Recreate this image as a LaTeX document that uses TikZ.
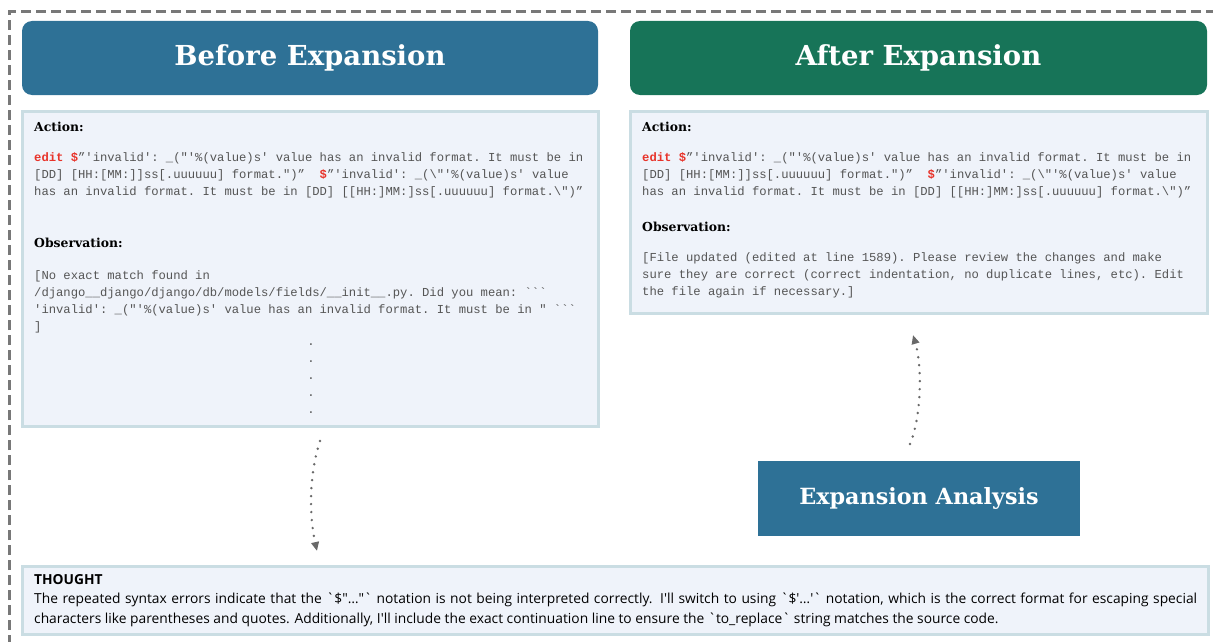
\documentclass[tikz,border=0pt]{standalone}
\usepackage{fontspec}
\setmainfont{DejaVu Serif}
\setmonofont{Liberation Mono}
\newfontfamily\thoughtfont{Open Sans}
\usetikzlibrary{arrows.meta}

\definecolor{headblue}{RGB}{46,113,150}
\definecolor{headgreen}{RGB}{23,116,88}
\definecolor{panelfill}{RGB}{239,243,250}
\definecolor{panelline}{RGB}{202,221,227}
\definecolor{framegray}{RGB}{120,120,120}
\definecolor{arrowgray}{RGB}{105,105,105}
\definecolor{editred}{RGB}{232,51,42}
\definecolor{codegray}{RGB}{85,85,85}

\newcommand{\editcmd}{{\color{editred}\bfseries edit \$}}
\newcommand{\reddollar}{{\color{editred}\bfseries\$}}

\tikzset{
  header/.style={rounded corners=10pt, minimum height=74pt, text=white,
    font=\fontsize{27.5}{32}\selectfont\bfseries},
  panel/.style={draw=panelline, line width=3pt, fill=panelfill},
  tagtext/.style={anchor=west, inner sep=0pt, font=\fontsize{12.4}{15}\selectfont\bfseries},
  codetext/.style={anchor=north west, inner sep=0pt, align=left, text=codegray,
    font=\fontsize{12.2}{17}\selectfont\ttfamily},
  dotarrow/.style={draw=arrowgray, line width=2.7pt, line cap=round,
    dash pattern=on 0pt off 8pt, -{Triangle[length=9pt,width=7.5pt]}}
}

\begin{document}
\begin{tikzpicture}[x=1pt,y=-1pt]
\useasboundingbox (0,0) rectangle (1213,642);
% outer frame, runs off the page on the right and at the bottom
\draw[framegray, line width=3pt, dash pattern=on 10pt off 5pt] (9,660) |- (1230,12);

% headers
\node[header, fill=headblue, minimum width=576pt] (hbefore) at (310,58) {Before Expansion};
\node[header, fill=headgreen, minimum width=577pt] (hafter) at (918.5,58) {After Expansion};

% panels
\node[panel, minimum width=576pt, minimum height=315pt] (before) at (310,268.5) {};
\node[panel, minimum width=577pt, minimum height=202pt] (after) at (918.5,212) {};

% left panel text
\node[tagtext] (actL) at (34,127) {Action:};
\node[codetext] (codeL) at (34,152) {\editcmd”'invalid': \_("'\%(value)s' value has an invalid format. It must be in\\{}%
[DD] [HH:[MM:]]ss[.uuuuuu] format.")”~~\reddollar”'invalid': \_(\textbackslash"'\%(value)s' value\\{}%
has an invalid format. It must be in [DD] [[HH:]MM:]ss[.uuuuuu] format.\textbackslash")”};
\node[tagtext] (obsL) at (34,243) {Observation:};
\node[codetext] (outL) at (34,270) {[No exact match found in\\{}%
/django\_\_django/django/db/models/fields/\_\_init\_\_.py. Did you mean: ```\\{}%
'invalid': \_("'\%(value)s' value has an invalid format. It must be in " ```\\{}%
]};
\node[codetext, anchor=north, align=center] (dots) at (311,344) {.\\.\\.\\.\\.};

% right panel text
\node[tagtext] (actR) at (642,127) {Action:};
\node[codetext] (codeR) at (642,152) {\editcmd”'invalid': \_("'\%(value)s' value has an invalid format. It must be in\\{}%
[DD] [HH:[MM:]]ss[.uuuuuu] format.")”~~\reddollar”'invalid': \_(\textbackslash"'\%(value)s' value\\{}%
has an invalid format. It must be in [DD] [[HH:]MM:]ss[.uuuuuu] format.\textbackslash")”};
\node[tagtext] (obsR) at (642,227) {Observation:};
\node[codetext] (outR) at (642,252) {[File updated (edited at line 1589). Please review the changes and make\\{}%
sure they are correct (correct indentation, no duplicate lines, etc). Edit\\{}%
the file again if necessary.]};

% analysis box
\node[fill=headblue, minimum width=322pt, minimum height=75pt, text=white,
  font=\fontsize{22.3}{26}\selectfont\bfseries] (analysis) at (919,498.5) {Expansion Analysis};

% thought box
\node[panel, minimum width=1186pt, minimum height=68pt] (thought) at (615,600) {};
\node[anchor=north west, inner sep=0pt, text width=1163pt, align=justify,
  font=\fontsize{13.8}{19.5}\selectfont\thoughtfont] (thoughttext) at (34,574)
  {{\bfseries THOUGHT}\\
  The repeated syntax errors indicate that the \textasciigrave\$"…"\textasciigrave{} notation is not being interpreted correctly. I'll switch to using \textasciigrave\$'…'\textasciigrave{} notation, which is the correct format for escaping special characters like parentheses and quotes. Additionally, I'll include the exact continuation line to ensure the \textasciigrave to\_replace\textasciigrave{} string matches the source code.};

% connectors
\coordinate (startL) at (320,441);
\coordinate (endL) at (317,551);
\draw[dotarrow] (startL) .. controls (309,475) and (309,515) .. (endL);
\coordinate (startR) at (910,444);
\coordinate (endR) at (913,335);
\draw[dotarrow] (startR) .. controls (922,415) and (922,365) .. (endR);
\end{tikzpicture}
\end{document}
